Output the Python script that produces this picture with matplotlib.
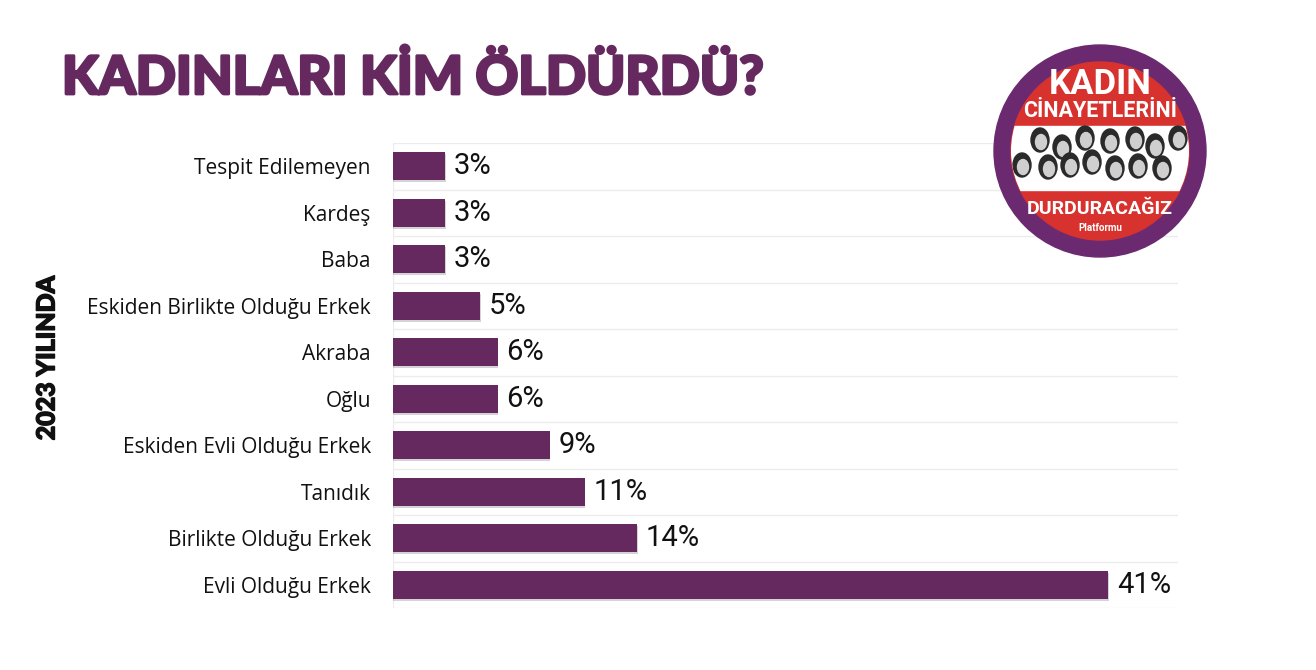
import matplotlib
matplotlib.use("Agg")
import matplotlib.pyplot as plt
import matplotlib.patheffects as pe
from matplotlib.patches import Circle, Rectangle, Ellipse

categories = ["Tespit Edilemeyen", "Kardeş", "Baba", "Eskiden Birlikte Olduğu Erkek",
              "Akraba", "Oğlu", "Eskiden Evli Olduğu Erkek", "Tanıdık",
              "Birlikte Olduğu Erkek", "Evli Olduğu Erkek"]
values = [3, 3, 3, 5, 6, 6, 9, 11, 14, 41]
value_labels = [f"{v}%" for v in values]

PURPLE = "#65285f"
W, H = 1316, 670
fig = plt.figure(figsize=(W / 100, H / 100), dpi=100)
fig.patch.set_facecolor("white")

# main axes
ax = fig.add_axes([393 / W, 1 - 608 / H, (1178 - 393) / W, (608 - 143) / H])
y = list(range(len(categories)))
bars = ax.barh(y, values, height=0.6, color=PURPLE, zorder=3)
for b in bars:
    b.set_path_effects([pe.SimplePatchShadow(offset=(0.3, -1.5), alpha=0.18), pe.Normal()])
ax.set_xlim(0, 45)
ax.set_ylim(len(categories) - 0.5, -0.5)
for b in range(len(categories) + 1):
    ax.axhline(b - 0.5, color="#ececec", lw=1.0, zorder=1)
ax.axvline(0, color="#ececec", lw=1.0, zorder=1)
for s in ax.spines.values():
    s.set_visible(False)
ax.set_xticks([])
ax.set_yticks(y)
ax.set_yticklabels(categories, family="Open Sans", fontsize=15,
                   fontweight="medium", color="#111111")
ax.tick_params(axis="y", length=0, pad=16)
for yi, v, lab in zip(y, values, value_labels):
    ax.text(v + 0.5, yi, lab, va="center", ha="left", fontsize=21,
            family="Roboto", color="#111111", zorder=4)

# title
fig.text(62 / W, 1 - 78 / H, "KADINLARI KİM ÖLDÜRDÜ?", ha="left", va="center",
         fontsize=38, fontweight="black", family="Lato", color=PURPLE,
         path_effects=[pe.withStroke(linewidth=2, foreground=PURPLE)])

# rotated label
fig.text(47 / W, 1 - 358 / H, "2023 YILINDA", rotation=90, ha="center", va="center",
         fontsize=18, fontweight="black", family="Lato", color="#111111",
         path_effects=[pe.withStroke(linewidth=1.0, foreground="#111111")])

# logo
lax = fig.add_axes([0, 0, 1, 1], zorder=5)
lax.set_xlim(0, W)
lax.set_ylim(H, 0)
lax.axis("off")
cx, cy = 1100, 151
inner = Circle((cx, cy), 89, transform=lax.transData)
lax.add_patch(Circle((cx, cy), 106, color="#6b2a70"))
lax.add_patch(Circle((cx, cy), 89, color="#d8322f"))
band = Rectangle((cx - 100, 126), 200, 64, color="white")
lax.add_patch(band)
band.set_clip_path(inner)
faces = [(1040, 140), (1062, 147), (1085, 138), (1110, 141), (1135, 139), (1155, 146), (1178, 138),
         (1022, 165), (1048, 167), (1070, 165), (1092, 162), (1115, 168), (1138, 166), (1162, 168)]
for fx, fy in faces:
    hair = Ellipse((fx, fy), 18, 24, color="#2a2a2a")
    face = Ellipse((fx + 1, fy + 2), 11, 15, color="#cfcfcf")
    for p in (hair, face):
        lax.add_patch(p)
        p.set_clip_path(inner)
lax.text(cx, 84, "KADIN", ha="center", va="center", fontsize=25, fontweight="bold",
         family="Roboto", color="white")
lax.text(cx, 111, "CİNAYETLERİNİ", ha="center", va="center", fontsize=15.5, fontweight="bold",
         family="Roboto", color="white")
lax.text(cx, 209, "DURDURACAĞIZ", ha="center", va="center", fontsize=14, fontweight="bold",
         family="Roboto", color="white")
lax.text(cx, 228, "Platformu", ha="center", va="center", fontsize=7, fontweight="bold",
         family="Roboto", color="white")

fig.savefig("out.png", dpi=100, facecolor="white")
